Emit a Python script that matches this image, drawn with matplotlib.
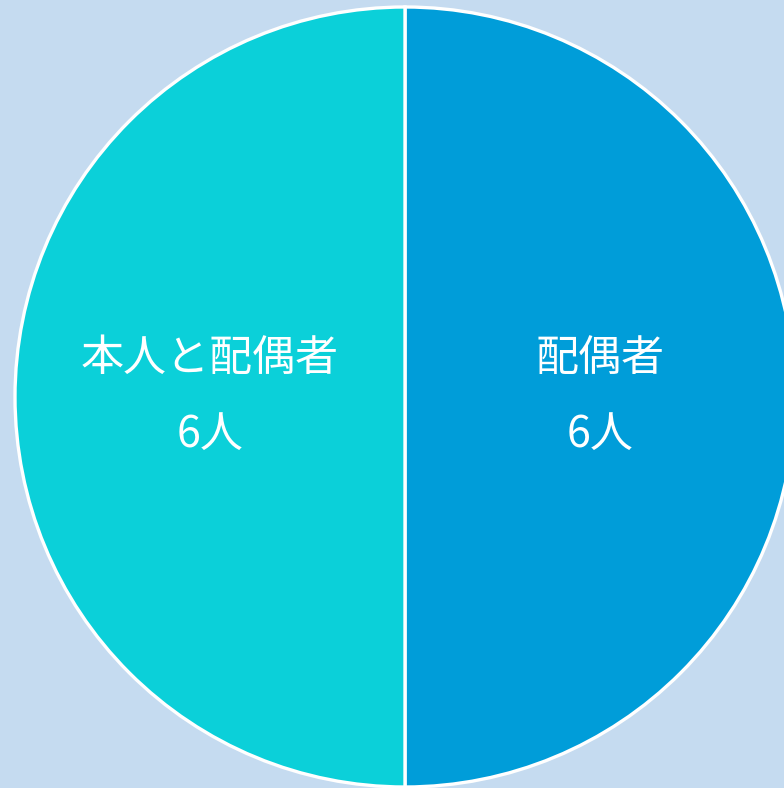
import matplotlib.pyplot as plt

plt.rcParams['font.family'] = ['Noto Sans CJK JP', 'DejaVu Sans']

# data
names = ['配偶者', '本人と配偶者']
counts = [6, 6]
colors = ['#009DD9', '#0BD0D9']
bg = '#C5DBF0'

fig = plt.figure(figsize=(7.84, 7.88), dpi=100, facecolor=bg)
ax = fig.add_axes([0, 0, 1, 1])
ax.set_facecolor(bg)

labels = [f'{n}\n{c}人' for n, c in zip(names, counts)]
wedges, texts = ax.pie(counts, labels=labels, colors=colors, startangle=90,
                       counterclock=False, center=(405, 391), radius=390,
                       labeldistance=0.5, frame=True,
                       wedgeprops=dict(edgecolor='white', linewidth=2.4),
                       textprops=dict(color='white', fontsize=31, linespacing=1.95))
ax.set_xlim(0, 784)
ax.set_ylim(0, 788)
ax.set_aspect('equal')
ax.axis('off')
for t in texts:
    t.set_ha('center')
    t.set_va('center')

fig.savefig('out.png', dpi=100, facecolor=bg)
